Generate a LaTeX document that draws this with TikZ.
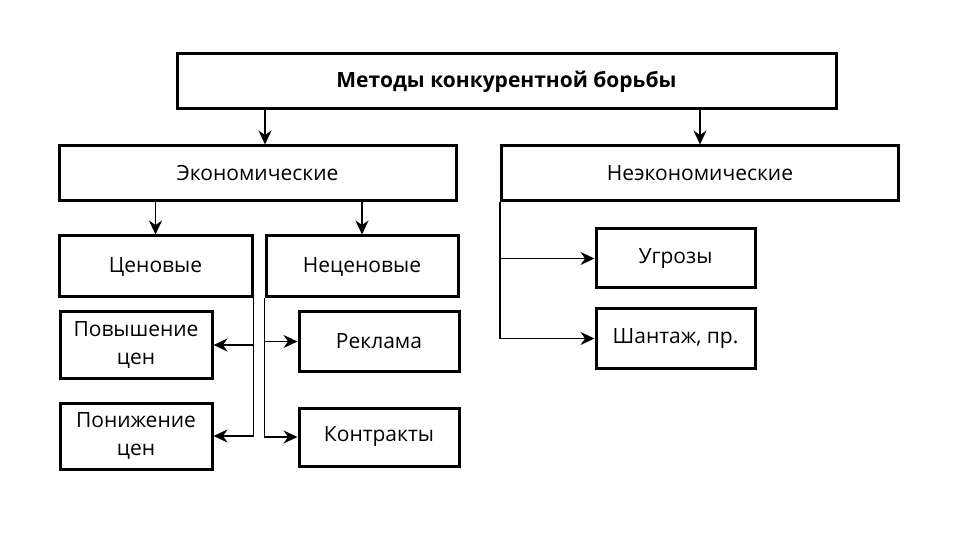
\documentclass[tikz,border=0pt]{standalone}
\usepackage{fontspec}
\setmainfont{Open Sans}
\usetikzlibrary{arrows.meta}

\begin{document}
\begin{tikzpicture}[x=0.5pt, y=-0.5pt]
            \tikzset{box/.style = {shape=rectangle,draw,line width=1.5pt,inner sep=0pt,font=\fontsize{10.5}{14}\selectfont,align=center}}
            \tikzset{edge/.style = {line width=0.9pt,-{Stealth[length=7pt,width=6.5pt]}}}

            \useasboundingbox[fill=white] (0,0) rectangle (960,540);

            \node[box,minimum width=329.5pt,minimum height=27.5pt,font=\fontsize{10.5}{14}\selectfont\bfseries] (top) at (506.5,81.5) {Методы конкурентной борьбы};

            \node[box,minimum width=198.5pt,minimum height=27.5pt] (eco) at (257.5,173.5) {Экономические};
            \node[box,minimum width=198.5pt,minimum height=27.5pt] (neco) at (700,173.5) {Неэкономические};

            \node[box,minimum width=96.5pt,minimum height=30.5pt] (cen) at (155.5,266.5) {Ценовые};
            \node[box,minimum width=96pt,minimum height=30.5pt] (necen) at (362,266.5) {Неценовые};

            \node[box,minimum width=76pt,minimum height=33pt] (pov) at (136,345) {Повышение\\цен};
            \node[box,minimum width=76pt,minimum height=33pt] (pon) at (136,436) {Понижение\\цен};
            \node[box,minimum width=80pt,minimum height=29.5pt] (rekl) at (379,341.5) {Реклама};
            \node[box,minimum width=80pt,minimum height=29pt] (kontr) at (379,437) {Контракты};

            \node[box,minimum width=79.5pt,minimum height=29.5pt] (ugr) at (675.5,258.5) {Угрозы};
            \node[box,minimum width=79.5pt,minimum height=29.5pt] (shant) at (675.5,338.5) {Шантаж, пр.};

            \draw[edge] (top.south -| 265,0) to (eco.north -| 265,0);
            \draw[edge] (top.south -| neco.north) to (neco.north);
            \draw[edge] (eco.south -| cen.north) to (cen.north);
            \draw[edge] (eco.south -| necen.north) to (necen.north);

            \draw[edge] (cen.south east) |- (pov.east);
            \draw[edge] (cen.south east) |- (pon.east);
            \draw[edge] (necen.south west) |- (rekl.west);
            \draw[edge] (necen.south west) |- (kontr.west);

            \draw[edge] (neco.south west) |- (ugr.west);
            \draw[edge] (neco.south west) |- (shant.west);
          \end{tikzpicture}
\end{document}
